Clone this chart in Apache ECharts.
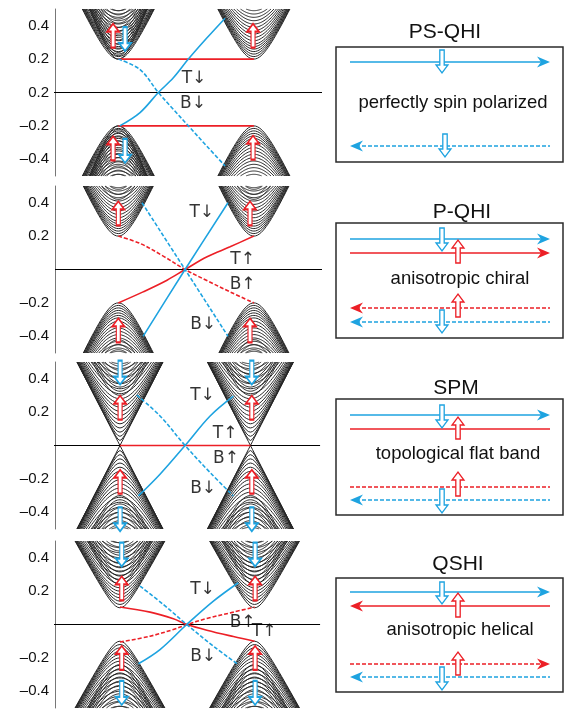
<!DOCTYPE html>
<html>
<head>
<meta charset="utf-8">
<script src="https://cdn.jsdelivr.net/npm/echarts@6/dist/echarts.min.js"></script>
<style>
  html, body { margin: 0; padding: 0; background: #fff; }
  #chart { width: 566px; height: 711px; }
</style>
</head>
<body>
<div id="chart"></div>
<script>
const BLUE = '#1ea3e0'
const RED = '#ec1f26'
const BAND = '#262626'
const FONT = '"Liberation Sans", Arial, sans-serif'

// energy ticks (same positions on every panel, labels differ)
const tickValues = [0.4, 0.2, 0, -0.2, -0.4]
const tickLabels = [
  ['0.4', '0.2', '0.2', '–0.2', '–0.4'],
  ['0.4', '0.2', '', '–0.2', '–0.4'],
  ['0.4', '0.2', '', '–0.2', '–0.4'],
  ['0.4', '0.2', '', '–0.2', '–0.4']
]

// valley positions in k, [left, right], and band velocity per panel
const valleyK = [[-0.49, 0.495], [-0.49, 0.495], [-0.478, 0.47], [-0.478, 0.5]]
const bandVelocity = [1.75, 1.8, 1.6, 1.5]

// subband edges (conduction side, valence is mirrored)
const upEdgesP1 = [0.2, 0.215, 0.23, 0.245, 0.26, 0.275, 0.29, 0.31, 0.33, 0.35, 0.37, 0.39, 0.41, 0.43, 0.45, 0.47, 0.49]
const downEdgesP1Left = [0.2, 0.22, 0.24, 0.265, 0.29, 0.315, 0.34, 0.365, 0.39, 0.415, 0.44, 0.465, 0.49]
const downEdgesP1Right = []
const upEdgesP2 = [0.2, 0.215, 0.23, 0.245, 0.26, 0.275, 0.29, 0.31, 0.33, 0.35, 0.37, 0.39, 0.41, 0.43, 0.45, 0.47, 0.49]
const downEdgesP2 = [0.42, 0.45, 0.48]
const upEdgesP3 = [0, 0.03, 0.055, 0.08, 0.105, 0.13, 0.155, 0.18, 0.205, 0.23, 0.255, 0.28, 0.31, 0.34, 0.37, 0.4, 0.43, 0.46, 0.49]
const downEdgesP3 = [0.3, 0.325, 0.35, 0.375, 0.4, 0.425, 0.45, 0.475]
const upEdgesP4 = [0.1, 0.12, 0.14, 0.16, 0.18, 0.2, 0.22, 0.245, 0.27, 0.295, 0.32, 0.345, 0.37, 0.4, 0.43, 0.46, 0.49]
const downEdgesP4 = [0.24, 0.265, 0.29, 0.315, 0.34, 0.365, 0.39, 0.415, 0.44, 0.465, 0.49]

const upEdges = [upEdgesP1, upEdgesP2, upEdgesP3, upEdgesP4]
const downEdges = [[downEdgesP1Left, downEdgesP1Right], [downEdgesP2, downEdgesP2], [downEdgesP3, downEdgesP3], [downEdgesP4, downEdgesP4]]

// edge states [k, E]
const psRedTop = [[-0.49, 0.2], [0.495, 0.2]]
const psRedBottom = [[-0.49, -0.2], [0.495, -0.2]]
const psBlueSolid = [[-0.48, -0.2], [-0.332, -0.12], [-0.199, 0], [-0.09, 0.088], [0.019, 0.2], [0.153, 0.326], [0.286, 0.445]]
const psBlueDash = [[-0.49, 0.2], [-0.332, 0.137], [-0.199, 0], [-0.09, -0.101], [0.019, -0.2], [0.153, -0.321], [0.286, -0.44]]

const pqRedSolid = [[-0.49, -0.2], [-0.31, -0.134], [-0.136, -0.064], [-0.005, 0], [0.155, 0.076], [0.322, 0.136], [0.495, 0.2]]
const pqRedDash = [[-0.49, 0.2], [-0.332, 0.156], [-0.163, 0.08], [-0.005, 0], [0.153, -0.066], [0.322, -0.134], [0.495, -0.2]]
const pqBlueSolid = [[-0.31, -0.4], [-0.005, 0], [0.307, 0.4]]
const pqBlueDash = [[-0.318, 0.4], [-0.005, 0], [0.307, -0.4]]

const spmRedFlat = [[-0.478, 0], [0.47, 0]]
const spmBlueSolid = [[-0.344, -0.302], [-0.187, -0.172], [-0.005, 0], [0.177, 0.177], [0.346, 0.296]]
const spmBlueDash = [[-0.356, 0.302], [-0.187, 0.177], [-0.005, 0], [0.177, -0.162], [0.346, -0.302]]

const qsRedSolid = [[-0.478, 0.105], [-0.259, 0.074], [-0.09, 0.034], [0.01, 0], [0.153, -0.034], [0.346, -0.072], [0.5, -0.1]]
const qsRedDash = [[-0.478, -0.105], [-0.259, -0.07], [-0.09, -0.03], [0.01, 0], [0.153, 0.036], [0.346, 0.074], [0.5, 0.105]]
const qsBlueSolid = [[-0.344, -0.235], [-0.187, -0.15], [0.007, 0], [0.201, 0.14], [0.382, 0.25]]
const qsBlueDash = [[-0.332, 0.23], [-0.163, 0.12], [0.007, 0], [0.201, -0.13], [0.382, -0.24]]

// zero (Fermi) line extent per panel
const zeroLines = [[[-0.986, 0], [0.99, 0]], [[-0.95, 0], [0.99, 0]], [[-1.059, 0], [0.976, 0]], [[-1.05, 0], [0.976, 0]]]

// spin arrows drawn inside the bands [k, E]
const upArrows = [
  [[-0.528, 0.34], [-0.528, -0.334], [0.489, 0.34], [0.489, -0.33]],
  [[-0.49, 0.336], [0.467, 0.336], [-0.49, -0.364], [0.467, -0.364]],
  [[-0.477, 0.227], [0.48, 0.227], [-0.477, -0.217], [0.48, -0.217]],
  [[-0.465, 0.216], [0.504, 0.216], [-0.465, -0.2], [0.504, -0.2]]
]
const downArrows = [
  [[-0.441, 0.32], [-0.441, -0.35]],
  [],
  [[-0.477, 0.437], [0.48, 0.437], [-0.477, -0.442], [0.48, -0.442]],
  [[-0.465, 0.419], [0.504, 0.419], [-0.465, -0.41], [0.504, -0.41]]
]

// edge-state labels [k, E, text]
const stateLabels = [
  [[0.06, 0.084, 'T↓'], [0.053, -0.066, 'B↓']],
  [[0.116, 0.34, 'T↓'], [0.413, 0.062, 'T↑'], [0.413, -0.088, 'B↑'], [0.126, -0.328, 'B↓']],
  [[0.122, 0.296, 'T↓'], [0.286, 0.072, 'T↑'], [0.293, -0.078, 'B↑'], [0.126, -0.256, 'B↓']],
  [[0.122, 0.21, 'T↓'], [0.413, 0.01, 'B↑'], [0.569, -0.042, 'T↑'], [0.126, -0.195, 'B↓']]
]

const edgeStates = [
  [[psRedTop, RED, false], [psRedBottom, RED, false], [psBlueSolid, BLUE, false], [psBlueDash, BLUE, true]],
  [[pqRedSolid, RED, false], [pqRedDash, RED, true], [pqBlueSolid, BLUE, false], [pqBlueDash, BLUE, true]],
  [[spmRedFlat, RED, false], [spmBlueSolid, BLUE, false], [spmBlueDash, BLUE, true]],
  [[qsRedSolid, RED, false], [qsRedDash, RED, true], [qsBlueSolid, BLUE, false], [qsBlueDash, BLUE, true]]
]

const gridTops = [9, 186, 362, 541]

// hyperbolic subbands E = ±sqrt(E0^2 + v^2 k^2), cut at |E| = 0.5
function subbands(K, edges, v) {
  const out = []
  edges.forEach(e0 => {
    const kmax = Math.sqrt(Math.max(0.25 - e0 * e0, 0)) / v
    ;[1, -1].forEach(s => {
      const coords = []
      for (let i = 0; i <= 40; i++) {
        const k = -kmax + 2 * kmax * i / 40
        coords.push([K + k, s * Math.sqrt(e0 * e0 + v * v * k * k)])
      }
      out.push({ coords })
    })
  })
  return out
}

const UP_PATH = 'path://M6,0L12,8L8,8L8,24L4,24L4,8L0,8Z'
const DOWN_PATH = 'path://M4,0L8,0L8,16L12,16L6,24L0,16L4,16Z'

const grids = [], xAxes = [], yAxes = [], series = []
for (let p = 0; p < 4; p++) {
  grids.push({ left: 55, width: 267, top: gridTops[p], height: 167 })
  xAxes.push({ gridIndex: p, type: 'value', min: -0.95, max: 0.99, show: false })
  yAxes.push({
    gridIndex: p, type: 'value', min: -0.5, max: 0.5,
    axisLine: { show: true, onZero: false, lineStyle: { color: '#777', width: 1 } },
    axisTick: { show: false },
    splitLine: { show: false },
    axisLabel: {
      customValues: tickValues,
      fontSize: 15, color: '#111', fontFamily: FONT, margin: 6,
      formatter: v => {
        const i = tickValues.findIndex(t => Math.abs(t - v) < 1e-6)
        return i < 0 ? '' : tickLabels[p][i]
      }
    }
  })

  const v = bandVelocity[p]
  const bands = []
    .concat(subbands(valleyK[p][0], upEdges[p], v))
    .concat(subbands(valleyK[p][1], upEdges[p], v))
    .concat(subbands(valleyK[p][0], downEdges[p][0], v * 1.25))
    .concat(subbands(valleyK[p][1], downEdges[p][1], v * 1.25))
  series.push({
    type: 'lines', coordinateSystem: 'cartesian2d', xAxisIndex: p, yAxisIndex: p,
    polyline: true, silent: true, z: 2,
    lineStyle: { color: BAND, width: 1, opacity: 1 },
    data: bands
  })

  series.push({
    type: 'line', xAxisIndex: p, yAxisIndex: p, data: zeroLines[p],
    symbol: 'none', clip: false, z: 3, silent: true,
    lineStyle: { color: '#000', width: 1.2 }
  })

  edgeStates[p].forEach(([pts, color, dashed]) => {
    series.push({
      type: 'line', xAxisIndex: p, yAxisIndex: p, data: pts,
      symbol: 'none', smooth: 0.35, z: 4, silent: true,
      lineStyle: { color, width: 1.6, type: dashed ? [4, 2] : 'solid' }
    })
  })

  series.push({
    type: 'scatter', xAxisIndex: p, yAxisIndex: p, data: upArrows[p],
    symbol: UP_PATH, symbolSize: [12, 24], z: 6, silent: true,
    itemStyle: { color: '#fff', borderColor: RED, borderWidth: 1.6, opacity: 1 }
  })
  series.push({
    type: 'scatter', xAxisIndex: p, yAxisIndex: p, data: downArrows[p],
    symbol: DOWN_PATH, symbolSize: [12, 24], z: 6, silent: true,
    itemStyle: { color: '#fff', borderColor: BLUE, borderWidth: 1.6, opacity: 1 }
  })
  series.push({
    type: 'scatter', xAxisIndex: p, yAxisIndex: p, data: stateLabels[p],
    symbolSize: 0.1, z: 7, silent: true,
    itemStyle: { color: 'rgba(0,0,0,0)' },
    label: {
      show: true, position: 'inside', formatter: d => d.data[2],
      fontSize: 17, color: '#000', fontFamily: '"DejaVu Sans", ' + FONT
    }
  })
}

// schematic boxes on the right
const boxes = [
  {
    top: 47, h: 115, title: 'PS-QHI', titleX: 445, titleY: 32,
    text: 'perfectly spin polarized', textX: 453, textY: 103,
    rows: [{ y: 62, c: BLUE, dash: false, head: 'right' }, { y: 146, c: BLUE, dash: true, head: 'left' }],
    marks: [{ x: 442, y1: 50, y2: 73, c: BLUE, dir: 'down' }, { x: 445, y1: 134, y2: 157, c: BLUE, dir: 'down' }]
  },
  {
    top: 223, h: 115, title: 'P-QHI', titleX: 462, titleY: 212,
    text: 'anisotropic chiral', textX: 460, textY: 279,
    rows: [
      { y: 239, c: BLUE, dash: false, head: 'right' }, { y: 253, c: RED, dash: false, head: 'right' },
      { y: 308, c: RED, dash: true, head: 'left' }, { y: 322, c: BLUE, dash: true, head: 'left' }
    ],
    marks: [
      { x: 442, y1: 228, y2: 251, c: BLUE, dir: 'down' }, { x: 458, y1: 240, y2: 263, c: RED, dir: 'up' },
      { x: 458, y1: 294, y2: 317, c: RED, dir: 'up' }, { x: 442, y1: 310, y2: 333, c: BLUE, dir: 'down' }
    ]
  },
  {
    top: 399, h: 116, title: 'SPM', titleX: 456, titleY: 388,
    text: 'topological flat band', textX: 458, textY: 454,
    rows: [
      { y: 415, c: BLUE, dash: false, head: 'right' }, { y: 429, c: RED, dash: false, head: null },
      { y: 487, c: RED, dash: true, head: null }, { y: 500, c: BLUE, dash: true, head: 'left' }
    ],
    marks: [
      { x: 442, y1: 405, y2: 428, c: BLUE, dir: 'down' }, { x: 458, y1: 417, y2: 439, c: RED, dir: 'up' },
      { x: 458, y1: 472, y2: 496, c: RED, dir: 'up' }, { x: 442, y1: 489, y2: 513, c: BLUE, dir: 'down' }
    ]
  },
  {
    top: 578, h: 114, title: 'QSHI', titleX: 458, titleY: 564,
    text: 'anisotropic helical', textX: 460, textY: 630,
    rows: [
      { y: 592, c: BLUE, dash: false, head: 'right' }, { y: 606, c: RED, dash: false, head: 'left' },
      { y: 664, c: RED, dash: true, head: 'right' }, { y: 677, c: BLUE, dash: true, head: 'left' }
    ],
    marks: [
      { x: 442, y1: 582, y2: 604, c: BLUE, dir: 'down' }, { x: 458, y1: 593, y2: 617, c: RED, dir: 'up' },
      { x: 458, y1: 652, y2: 675, c: RED, dir: 'up' }, { x: 442, y1: 667, y2: 690, c: BLUE, dir: 'down' }
    ]
  }
]

function textEl(x, y, text, size) {
  return {
    type: 'text', x, y, z: 20,
    style: {
      text, font: size + 'px ' + FONT, fill: '#111',
      align: 'center', verticalAlign: 'middle',
      textAlign: 'center', textVerticalAlign: 'middle'
    }
  }
}

function hollowArrow(m) {
  const { x, y1, y2, dir } = m
  const hw = 6, sw = 2.2, hl = 8
  let pts
  if (dir === 'down') {
    pts = [[x - sw, y1], [x + sw, y1], [x + sw, y2 - hl], [x + hw, y2 - hl], [x, y2], [x - hw, y2 - hl], [x - sw, y2 - hl]]
  } else {
    pts = [[x - sw, y2], [x + sw, y2], [x + sw, y1 + hl], [x + hw, y1 + hl], [x, y1], [x - hw, y1 + hl], [x - sw, y1 + hl]]
  }
  return { type: 'polygon', z: 15, shape: { points: pts }, style: { fill: '#fff', stroke: m.c, lineWidth: 1.3 } }
}

const graphics = []
boxes.forEach(b => {
  graphics.push({
    type: 'rect', z: 10, shape: { x: 336, y: b.top, width: 227, height: b.h },
    style: { fill: 'none', stroke: '#2b2b2b', lineWidth: 1.5 }
  })
  graphics.push(textEl(b.titleX, b.titleY, b.title, 21))
  graphics.push(textEl(b.textX, b.textY, b.text, 18.5))
  b.rows.forEach(r => {
    const x1 = 350, x2 = 550
    graphics.push({
      type: 'line', z: 12, shape: { x1: r.head === 'left' ? x1 + 6 : x1, y1: r.y, x2: r.head === 'right' ? x2 - 6 : x2, y2: r.y },
      style: { stroke: r.c, lineWidth: 1.5, lineDash: r.dash ? [4, 2] : null }
    })
    if (r.head === 'right') {
      graphics.push({ type: 'polygon', z: 12, shape: { points: [[x2, r.y], [x2 - 13, r.y - 5.5], [x2 - 9, r.y], [x2 - 13, r.y + 5.5]] }, style: { fill: r.c } })
    } else if (r.head === 'left') {
      graphics.push({ type: 'polygon', z: 12, shape: { points: [[x1, r.y], [x1 + 13, r.y - 5.5], [x1 + 9, r.y], [x1 + 13, r.y + 5.5]] }, style: { fill: r.c } })
    }
  })
  b.marks.forEach(m => graphics.push(hollowArrow(m)))
})

const chart = echarts.init(document.getElementById('chart'), null, { renderer: 'canvas' })
chart.setOption({
  animation: false,
  backgroundColor: '#fff',
  grid: grids,
  xAxis: xAxes,
  yAxis: yAxes,
  series,
  graphic: { elements: graphics }
})
</script>
</body>
</html>
